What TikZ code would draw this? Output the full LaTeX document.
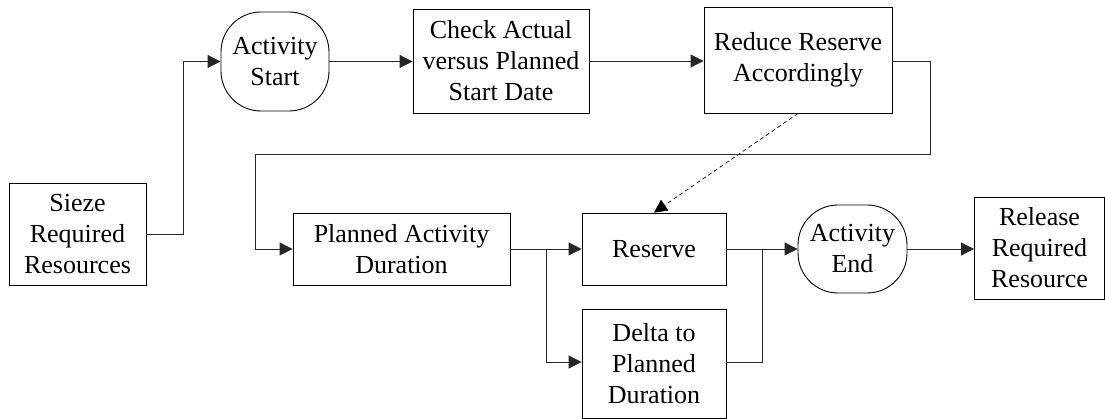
\documentclass[tikz,border=0pt]{standalone}
\usepackage{fontspec}
\newfontfamily\tnrfont{Liberation Serif}
\usetikzlibrary{arrows.meta}
\begin{document}
\begin{tikzpicture}[x=1pt,y=1pt,
  lbl/.style={font=\tnrfont\fontsize{26}{31}\selectfont, align=center, inner sep=0pt},
  box/.style={lbl, draw, line width=0.9pt},
  term/.style={lbl, draw, line width=0.9pt, rounded corners=40pt},
  conn/.style={line width=0.9pt, draw=black!85, -{Triangle[length=13pt,width=13pt]}},
  link/.style={line width=0.9pt, draw=black!85},
  dconn/.style={line width=0.7pt, dash pattern=on 4pt off 3pt, -{Triangle[length=13pt,width=13pt]}}]
\useasboundingbox (0,0) rectangle (1105,-419);
\node[box, minimum width=137pt, minimum height=102pt] (sieze) at (77.5,-234) {Sieze\\Required\\Resources};
\node[term, minimum width=108pt, minimum height=99pt] (astart) at (275,-61.5) {Activity\\Start};
\node[box, minimum width=176pt, minimum height=104pt] (check) at (501,-61) {Check Actual\\versus Planned\\Start Date};
\node[box, minimum width=188pt, minimum height=106pt] (reduce) at (798,-60) {Reduce Reserve\\Accordingly};
\node[box, minimum width=217pt, minimum height=72pt] (planned) at (401.5,-249) {Planned Activity\\Duration};
\node[box, minimum width=144pt, minimum height=72pt] (reserve) at (654,-249) {Reserve};
\node[box, minimum width=144pt, minimum height=109pt] (delta) at (654,-363.5) {Delta to\\Planned\\Duration};
\node[term, minimum width=109pt, minimum height=88pt] (aend) at (852.5,-249) {Activity\\End};
\node[box, minimum width=130pt, minimum height=102pt] (release) at (1039.5,-248) {Release\\Required\\Resource};
\coordinate (split) at (546,-249);
\coordinate (join) at (762,-249);
\draw[conn] (sieze.east) -- ++(37,0) |- (astart.west);
\draw[conn] (astart.east) -- (check.west |- astart.east);
\draw[conn] (check.east) -- (reduce.west |- check.east);
\draw[conn] (reduce.east |- 0,-61) -- (930,-61) -- (930,-154) -- (255,-154) |- (planned.west);
\draw[link] (planned.east) -- (split);
\draw[conn] (split) -- (reserve.west);
\draw[conn] (split) |- (delta.west |- 0,-362);
\draw[link] (reserve.east) -- (join);
\draw[link] (delta.east |- 0,-362) -| (join);
\draw[conn] (join) -- (aend.west);
\draw[conn] (aend.east) -- (release.west |- aend.east);
\draw[dconn] (reduce.south) -- (reserve.north);
\end{tikzpicture}
\end{document}
